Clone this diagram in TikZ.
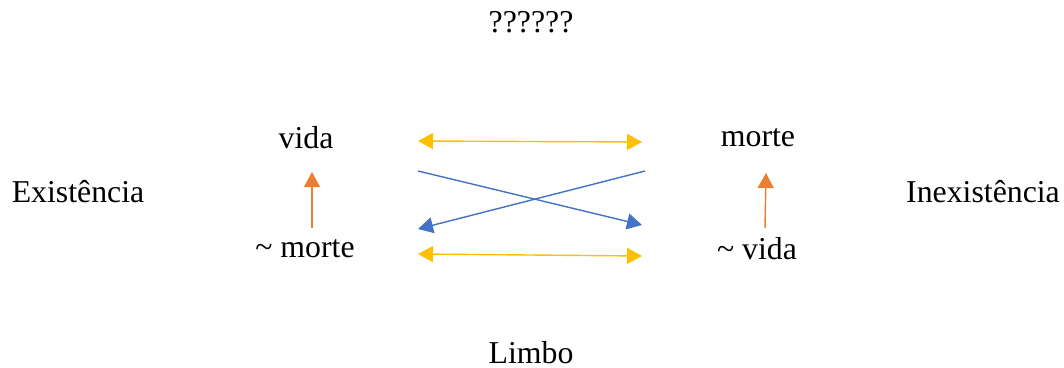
\documentclass[tikz,border=0pt]{standalone}
\usepackage{fontspec}
\setmainfont{Liberation Serif}
\usetikzlibrary{arrows.meta}
\definecolor{ouro}{HTML}{FFC000}
\definecolor{azul}{HTML}{4472C4}
\definecolor{laranja}{HTML}{ED7D31}
\tikzset{
  rotulo/.style={inner sep=0pt, font=\fontsize{31.8}{36}\selectfont},
  ponta/.tip={Triangle[length=15pt,width=16pt]},
  seta/.style={line width=1.4pt, -ponta},
  dupla/.style={line width=1.4pt, ponta-ponta},
}
\begin{document}
\begin{tikzpicture}[x=1pt,y=-1pt]
\useasboundingbox (0,0) rectangle (1064,367);
% text labels
\node[rotulo] (titulo) at (531,22) {??????};
\node[rotulo] (vida) at (306,138) {vida};
\node[rotulo] (morte) at (758,138) {morte};
\node[rotulo] (exist) at (78,192) {Existência};
\node[rotulo] (inexist) at (983,192) {Inexistência};
\node[rotulo] (nmorte) at (305,249) {\textasciitilde\ morte};
\node[rotulo] (nvida) at (757,249) {\textasciitilde\ vida};
\node[rotulo] (limbo) at (531,353) {Limbo};
% arrow end points
\coordinate (a1) at (418,141);
\coordinate (a2) at (642,142);
\coordinate (b1) at (418,254);
\coordinate (b2) at (642,256);
\coordinate (c1) at (418,171);
\coordinate (c2) at (642,225);
\coordinate (d1) at (645,171);
\coordinate (d2) at (418,229);
\coordinate (e1) at (312,228);
\coordinate (e2) at (312,172);
\coordinate (f1) at (765,228);
\coordinate (f2) at (766,173);
% connectors
\draw[dupla, ouro] (a1) -- (a2);
\draw[dupla, ouro] (b1) -- (b2);
\draw[seta, azul] (c1) -- (c2);
\draw[seta, azul] (d1) -- (d2);
\draw[seta, laranja] (e1) -- (e2);
\draw[seta, laranja] (f1) -- (f2);
\end{tikzpicture}
\end{document}
